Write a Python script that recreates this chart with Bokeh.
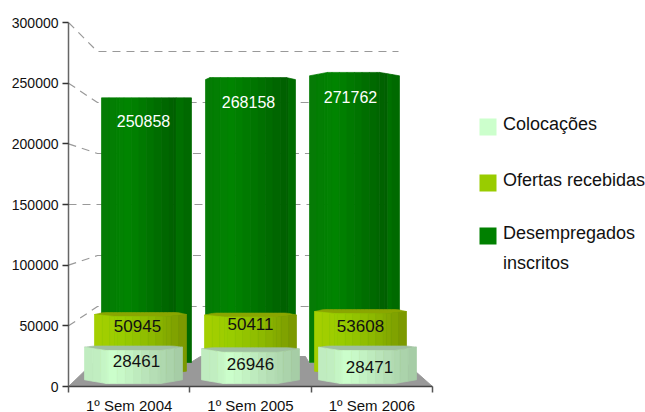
from bokeh.plotting import figure
from bokeh.models import FixedTicker, ColumnDataSource
from bokeh.core.properties import value
from bokeh.embed import file_html
from bokeh.resources import INLINE

# ---- data -----------------------------------------------------------
categories = ["1º Sem 2004", "1º Sem 2005", "1º Sem 2006"]
colocacoes = [28461, 26946, 28471]
ofertas = [50945, 50411, 53608]
desempregados = [250858, 268158, 271762]
y_ticks = [0, 50000, 100000, 150000, 200000, 250000, 300000]
legend_labels = [["Colocações"], ["Ofertas recebidas"], ["Desempregados", "inscritos"]]
legend_colors = ["#CCFFCC", "#99CC00", "#008000"]

# ---- layout constants (screen px of the plot's frame) ----------------
W, H = 645, 412
AX_L, AX_T, AX_B = 68, 22, 386
PX_X = 121.33                # px per category
PX_Y = 60.67 / 50000         # px per value unit
FONT = value("Liberation Sans")


def X(px):
    return (px - AX_L) / PX_X


def Y(py):
    return (AX_B - py) / PX_Y


p = figure(width=W, height=H, output_backend="svg", toolbar_location=None,
           x_range=(0, (W - AX_L) / PX_X), y_range=(0, 300000),
           min_border_left=AX_L, min_border_right=0, min_border_top=AX_T,
           min_border_bottom=H - AX_B, frame_width=W - AX_L, frame_height=AX_B - AX_T,
           outline_line_color=None, border_fill_color="white", background_fill_color="white")
p.grid.visible = False

# ---- axes -----------------------------------------------------------
ax = p.xaxis[0]
ax.ticker = FixedTicker(ticks=[0.5, 1.5, 2.5], minor_ticks=[0, 1, 2, 3])
ax.major_label_overrides = {i + 0.5: c for i, c in enumerate(categories)}
ax.bounds = (0, 3)
ax.major_tick_line_color = None
ax.major_tick_out = 0
ax.major_tick_in = 0
ax.minor_tick_out = 6
ax.minor_tick_in = 0
ax.minor_tick_line_color = "#555555"
ax.minor_tick_line_width = 1.5
ax.axis_line_color = "#444444"
ax.axis_line_width = 1.5
ax.major_label_text_font = "Liberation Sans"
ax.major_label_text_font_size = "15px"
ax.major_label_text_color = "#111111"
ax.major_label_standoff = 4

ay = p.yaxis[0]
ay.ticker = FixedTicker(ticks=y_ticks, minor_ticks=[])
ay.formatter.use_scientific = False
ay.formatter.precision = 0
ay.major_tick_out = 6
ay.major_tick_in = 0
ay.major_tick_line_color = "#333333"
ay.major_tick_line_width = 1.5
ay.axis_line_color = "#666666"
ay.axis_line_width = 1.5
ay.major_label_text_font = "Liberation Sans"
ay.major_label_text_font_size = "14px"
ay.major_label_text_color = "#111111"
ay.major_label_standoff = 4

# ---- floor ----------------------------------------------------------
floor = [(68, 386), (95, 360), (191, 361.5), (200, 356), (305, 356), (309, 363), (406, 363), (432, 386)]
p.patch([X(a) for a, _ in floor], [Y(b) for _, b in floor], fill_color="#999999", line_color="#999999")

# ---- dashed wall grid ------------------------------------------------
BACK_L, BACK_R, BACK_0, BACK_K = 97, 398, 357, 51 / 50000
for t in y_ticks[1:]:
    by = Y(BACK_0 - t * BACK_K)
    p.line([0, X(BACK_L), X(BACK_R)], [t, by, by], line_color="#999999", line_width=1.2, line_dash="8 6")


# ---- prism bars ------------------------------------------------------
def mix(stops, t):
    for (a, ca), (b, cb) in zip(stops, stops[1:]):
        if t <= b:
            f = (t - a) / (b - a) if b > a else 0
            ch = [round(int(ca[i:i + 2], 16) * (1 - f) + int(cb[i:i + 2], 16) * f) for i in (1, 3, 5)]
            return "#%02X%02X%02X" % tuple(ch)
    return stops[-1][1]


def prof(t, a=0.22, b=0.22):
    return max(0.0, min(t / a, 1.0, (1 - t) / b))


FACETS = 12


def draw_layer(vals, depth, width, base_px, k, stops, top_color, front, back, bottom,
               tapers=None, panels=None):
    """front / back / bottom are px bows of the prism relative to its corners."""
    xs, ys, cs = [], [], []
    tops = []
    cxs = []
    for i, v in enumerate(vals):
        cx = 1.5 + (i - 1) * depth
        cxs.append(cx)
        x0 = cx - width / 2
        top_px = base_px - v * k
        tops.append(top_px)
        a, b = tapers[i] if tapers else (0.22, 0.22)
        fr = front[i] if isinstance(front, list) else front
        if back:
            ts = [j / 24 for j in range(25)]
            xs.append([x0 + width * t for t in ts] + [x0 + width * t for t in reversed(ts)])
            ys.append([Y(top_px + fr * prof(t, a, b)) for t in ts] +
                      [Y(top_px - back * prof(t, 0.1, 0.1)) for t in reversed(ts)])
            cs.append(top_color)
        edges = sorted(set([j / FACETS for j in range(FACETS + 1)] +
                           ([panels[i]] if panels else []) + [a, 1 - b]))
        for t0, t1 in zip(edges, edges[1:]):
            tm = (t0 + t1) / 2
            if panels and tm > panels[i]:
                col = mix([(panels[i], "#007200"), (1, "#006600")], tm)
            elif panels:
                col = mix([(0, stops[0][1]), (0.3, stops[1][1]), (panels[i], stops[2][1])], tm)
            else:
                col = mix(stops, tm)
            xa, xb = x0 + width * t0, x0 + width * t1
            xs.append([xa, xb, xb, xa])
            ys.append([Y(top_px + fr * prof(t0, a, b)), Y(top_px + fr * prof(t1, a, b)),
                       Y(base_px + bottom * prof(t1)), Y(base_px + bottom * prof(t0))])
            cs.append(col)
    p.patches(xs, ys, fill_color=cs, line_color=cs, line_width=0.7)
    return cxs, tops


GREEN = [(0, "#067A06"), (0.3, "#008400"), (1, "#005E00")]
OLIVE = [(0, "#A6D000"), (0.3, "#99CC00"), (0.65, "#8CB800"), (1, "#7A9600")]
MINT = [(0, "#C2EEC2"), (0.08, "#BEEABE"), (0.3, "#CCFFCC"), (0.6, "#BBE6BB"), (1, "#A4CAA4")]

g_cx, g_top = draw_layer(desempregados, 104 / PX_X, 90 / PX_X, 362, 1.055e-3, GREEN, "#008000",
                         [0, -2, -3.4], 0, 0,
                         tapers=[(.2, .2), (.05, .1), (.2, .22)], panels=[.83, .92, .87])
o_cx, o_top = draw_layer(ofertas, 110 / PX_X, 92 / PX_X, 370.7, 1.113e-3, OLIVE, "#8AA600",
                         2, 2, 2.5)
c_cx, c_top = draw_layer(colocacoes, 117 / PX_X, 98 / PX_X, 379.3, 1.145e-3, MINT, "#9FC09F",
                         3.3, 1.2, 3.7)

# ---- value labels ----------------------------------------------------
layers = [
    (desempregados, g_cx, g_top, [-3, -2, -4], [23, 22, 21], "white", "16px"),
    (ofertas, o_cx, o_top, [-3, 0, 0], [11.5, 8.5, 14.5], "#111111", "17px"),
    (colocacoes, c_cx, c_top, [3, 0, 2], [13.5, 15.5, 19.5], "#111111", "17px"),
]
for vals, cxs, tops, dx, dy, colr, size in layers:
    src = ColumnDataSource(dict(x=cxs, y=[Y(t) for t in tops], t=[str(v) for v in vals], dx=dx, dy=dy))
    p.text("x", "y", text="t", source=src, x_offset="dx", y_offset="dy", text_font=FONT,
           text_font_size=value(size), text_color=colr, text_align="center", text_baseline="middle")

# ---- legend ----------------------------------------------------------
LEG_SWATCH_X, LEG_TEXT_X = 487.5, 502.5
LEG_Y = [126.5, 182.5, 235.5]
LEG_TY = [123, 179, 232]
LINE_H = 30
for lab, colr, sy, ty in zip(legend_labels, legend_colors, LEG_Y, LEG_TY):
    p.rect([X(LEG_SWATCH_X)], [Y(sy)], width=17, height=17, width_units="screen", height_units="screen",
           fill_color=colr, line_color=None)
    for n, line in enumerate(lab):
        p.text([X(LEG_TEXT_X)], [Y(ty + n * LINE_H)], text=[line], text_font=FONT,
               text_font_size=value("18px"), text_color="#111111",
               text_align="left", text_baseline="middle")

open("out.html", "w").write(file_html(p, INLINE))
